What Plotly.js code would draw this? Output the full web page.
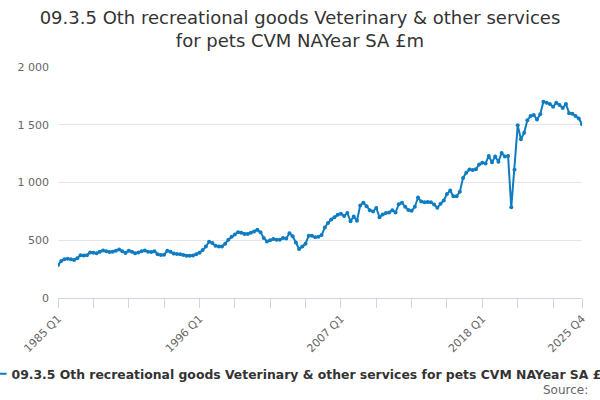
<!DOCTYPE html>
<html>
<head>
<meta charset="utf-8">
<script src="https://cdn.plot.ly/plotly-3.0.1.min.js"></script>
<style>
  body { margin: 0; }
  #chart { width: 600px; height: 400px; }
</style>
</head>
<body>
<div id="chart"></div>
<script>
// Quarters from 1985 Q1 to 2025 Q4
const startYear = 1985;
const endYear = 2025;

// Values, £m
const values = [
  285, 320, 335, 340, 335, 330, 345, 370, 368, 370,
  395, 392, 388, 400, 412, 405, 398, 400, 410, 420,
  405, 390, 410, 400, 388, 395, 405, 412, 400, 398,
  405, 378, 372, 375, 410, 400, 385, 382, 378, 372,
  366, 365, 368, 378,
  392, 415, 445, 488, 476, 452, 445, 445, 470, 505,
  530, 550, 570, 565, 555, 555, 565, 575, 590, 570,
  520, 490, 500, 510, 505, 505, 520, 515,
  560, 535, 480, 425, 445, 470, 540, 540, 525, 530,
  545, 610, 650, 680, 700, 720, 730, 710, 735, 665,
  705, 668, 800, 825, 795, 760, 748, 780, 700, 722,
  735, 740, 760, 740, 812, 825, 790, 762, 755, 790,
  870, 835, 828, 832,
  830, 810, 782, 815, 845, 900, 930, 880, 882, 920,
  1040, 1085, 1112, 1108, 1115, 1155, 1170, 1165, 1230, 1175,
  1225, 1180, 1255,
  1225, 1230, 785, 1110, 1495, 1375, 1430, 1540, 1575, 1585,
  1545, 1590, 1700, 1690, 1680, 1655, 1690, 1670, 1645, 1680,
  1600, 1595, 1575, 1555, 1505
];

const quarters = [];
for (let y = startYear; y <= endYear; y++) {
  for (let q = 1; q <= 4; q++) quarters.push(y + " Q" + q);
}

// ticks every 11 quarters, labels every 44, plus the last quarter
const labelled = ["1985 Q1", "1996 Q1", "2007 Q1", "2018 Q1", "2025 Q4"];
const tickVals = [];
for (let i = 0; i < quarters.length - 1; i += 11) tickVals.push(quarters[i]);
tickVals.push(quarters[quarters.length - 1]);
const tickText = tickVals.map(q => labelled.includes(q) ? q : "");

const seriesName = "09.3.5 Oth recreational goods Veterinary & other services for pets CVM NAYear SA £m";

Plotly.newPlot("chart", [
  {
    x: quarters,
    y: values,
    mode: "lines+markers",
    name: seriesName,
    line: { color: "#0f7cc2", width: 2 },
    marker: { color: "#0f7cc2", size: 4 }
  }
], {
  width: 600,
  height: 400,
  font: { family: "DejaVu Sans, sans-serif", color: "#333333" },
  title: {
    text: seriesName.replace(" for pets", "<br>for pets"),
    font: { size: 18, color: "#333333" },
    x: 0.5,
    xref: "container",
    xanchor: "center",
    y: 0.94,
    yanchor: "top"
  },
  separators: ". ",
  margin: { l: 58, r: 18, t: 67, b: 102, autoexpand: false },
  showlegend: true,
  legend: {
    orientation: "h",
    x: -0.165,
    xanchor: "left",
    y: -0.33,
    yanchor: "middle",
    font: { size: 12.4, color: "#333333", weight: "bold" }
  },
  xaxis: {
    type: "category",
    range: [0, quarters.length - 1],
    tickmode: "array",
    tickvals: tickVals,
    ticktext: tickText,
    tickangle: -45,
    ticks: "outside",
    ticklen: 9,
    tickcolor: "#ccd6eb",
    showgrid: false,
    showline: false,
    zeroline: false,
    automargin: false,
    tickfont: { size: 11, color: "#666666" }
  },
  yaxis: {
    range: [0, 2000],
    dtick: 500,
    tickformat: ",d",
    gridcolor: "#e6e6e6",
    zeroline: true,
    zerolinecolor: "#ccd6eb",
    zerolinewidth: 1,
    automargin: false,
    ticklabelstandoff: 8,
    tickfont: { size: 11, color: "#666666" }
  },
  annotations: [
    {
      text: "Source:",
      xref: "paper",
      yref: "paper",
      x: 1.016,
      xanchor: "right",
      y: -0.397,
      yanchor: "middle",
      showarrow: false,
      font: { size: 12, color: "#666666" }
    }
  ],
  plot_bgcolor: "#ffffff",
  paper_bgcolor: "#ffffff"
}, { displayModeBar: false });
</script>
</body>
</html>
